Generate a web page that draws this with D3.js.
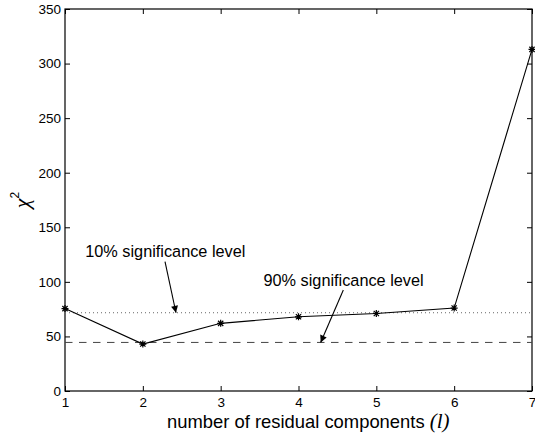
<!DOCTYPE html>
<html>
<head>
<meta charset="utf-8">
<script src="https://cdn.jsdelivr.net/npm/d3@7"></script>
<style>
  body { margin: 0; background: #fff; }
  svg { display: block; font-family: "Liberation Sans", Arial, Helvetica, sans-serif; }
</style>
</head>
<body>
<svg id="chart"></svg>
<script>
// chi-square vs number of residual components
var components = [1, 2, 3, 4, 5, 6, 7];
var chi2 = [75.5, 43, 62, 68, 71, 76, 313];
var xTicks = [1, 2, 3, 4, 5, 6, 7];
var yTicks = [0, 50, 100, 150, 200, 250, 300, 350];
var level10 = 71.7;
var level90 = 44.5;
var notes = [
    {text: "10% significance level", tx: 1.26, ty: 122.8, ax0: 2.285, ay0: 118.5, ax1: 2.426, ay1: level10},
    {text: "90% significance level", tx: 3.55, ty: 96.2, ax0: 4.576, ay0: 92.5, ax1: 4.285, ay1: level90}
];

var width = 535,
    height = 436,
    margin = {top: 9, right: 3, bottom: 45, left: 65};

var svg = d3.select("#chart")
    .attr("width", width)
    .attr("height", height);

var x = d3.scaleLinear().domain([1, 7]).range([margin.left, width - margin.right]);
var y = d3.scaleLinear().domain([0, 350]).range([height - margin.bottom, margin.top]);

svg.append("defs").append("marker")
    .attr("id", "head")
    .attr("viewBox", "0 0 10 10")
    .attr("refX", 10).attr("refY", 5)
    .attr("markerWidth", 9).attr("markerHeight", 7)
    .attr("markerUnits", "userSpaceOnUse")
    .attr("orient", "auto")
  .append("path")
    .attr("d", "M0,0L10,5L0,10z")
    .attr("fill", "#000");

// axes, MATLAB style: ticks inside, box all round
var tk = 5;
svg.append("g")
    .attr("transform", "translate(0," + y(0) + ")")
    .call(d3.axisBottom(x).tickValues(xTicks).tickSize(-tk).tickPadding(6).tickFormat(d3.format("d")))
    .call(function(g) { g.select(".domain").remove(); })
    .selectAll("text").attr("font-size", 13.5).attr("fill", "#000");

svg.append("g")
    .attr("transform", "translate(" + x(1) + ",0)")
    .call(d3.axisLeft(y).tickValues(yTicks).tickSize(-tk).tickPadding(4))
    .call(function(g) { g.select(".domain").remove(); })
    .selectAll("text").attr("font-size", 13.5).attr("fill", "#000");

svg.append("g")
    .attr("transform", "translate(0," + y(350) + ")")
    .call(d3.axisTop(x).tickValues(xTicks).tickSize(-tk).tickFormat(""))
    .call(function(g) { g.select(".domain").remove(); });

svg.append("g")
    .attr("transform", "translate(" + x(7) + ",0)")
    .call(d3.axisRight(y).tickValues(yTicks).tickSize(-tk).tickFormat(""))
    .call(function(g) { g.select(".domain").remove(); });

svg.append("rect")
    .attr("x", x(1)).attr("y", y(350))
    .attr("width", x(7) - x(1)).attr("height", y(0) - y(350))
    .attr("fill", "none").attr("stroke", "#000").attr("stroke-width", 1.2);

// significance levels
svg.append("line")
    .attr("x1", x(1)).attr("x2", x(7))
    .attr("y1", y(level10)).attr("y2", y(level10))
    .attr("stroke", "#666").attr("stroke-dasharray", "1,3");

svg.append("line")
    .attr("x1", x(1)).attr("x2", x(7))
    .attr("y1", y(level90)).attr("y2", y(level90))
    .attr("stroke", "#444").attr("stroke-dasharray", "7.5,6.5");

// data line
var line = d3.line()
    .x(function(d, i) { return x(components[i]); })
    .y(function(d) { return y(d); });

svg.append("path")
    .datum(chi2)
    .attr("d", line)
    .attr("fill", "none")
    .attr("stroke", "#000")
    .attr("stroke-width", 1.1);

var r = 3.5, rd = r * 0.75;
svg.selectAll(".star")
    .data(chi2)
  .enter().append("path")
    .attr("class", "star")
    .attr("transform", function(d, i) { return "translate(" + x(components[i]) + "," + y(d) + ")"; })
    .attr("d", "M0," + (-r) + "V" + r + "M" + (-r) + ",0H" + r +
               "M" + (-rd) + "," + (-rd) + "L" + rd + "," + rd +
               "M" + (-rd) + "," + rd + "L" + rd + "," + (-rd))
    .attr("stroke", "#000")
    .attr("stroke-width", 1.2)
    .attr("fill", "none");

// annotations
var ann = svg.selectAll(".note").data(notes).enter().append("g");
ann.append("text")
    .attr("x", function(d) { return x(d.tx); })
    .attr("y", function(d) { return y(d.ty); })
    .attr("font-size", 16.3)
    .text(function(d) { return d.text; });
ann.append("line")
    .attr("x1", function(d) { return x(d.ax0); })
    .attr("y1", function(d) { return y(d.ay0); })
    .attr("x2", function(d) { return x(d.ax1); })
    .attr("y2", function(d) { return y(d.ay1); })
    .attr("stroke", "#000")
    .attr("stroke-width", 1.1)
    .attr("marker-end", "url(#head)");

// labels
var xl = svg.append("text")
    .attr("x", 167)
    .attr("y", 428)
    .attr("font-size", 18.4);
xl.append("tspan").text("number of residual components ");
xl.append("tspan")
    .attr("font-family", "'Liberation Serif', 'Times New Roman', serif")
    .attr("font-style", "italic")
    .attr("font-size", 21)
    .text("(l)");

var yl = svg.append("text")
    .attr("transform", "translate(29," + ((y(0) + y(350)) / 2) + ") rotate(-90)")
    .attr("text-anchor", "middle");
yl.append("tspan")
    .attr("font-family", "'Liberation Serif', 'Times New Roman', serif")
    .attr("font-style", "italic")
    .attr("font-size", 22)
    .text("\u03c7");
yl.append("tspan")
    .attr("font-size", 12)
    .attr("dy", -10)
    .text("2");
</script>
</body>
</html>
